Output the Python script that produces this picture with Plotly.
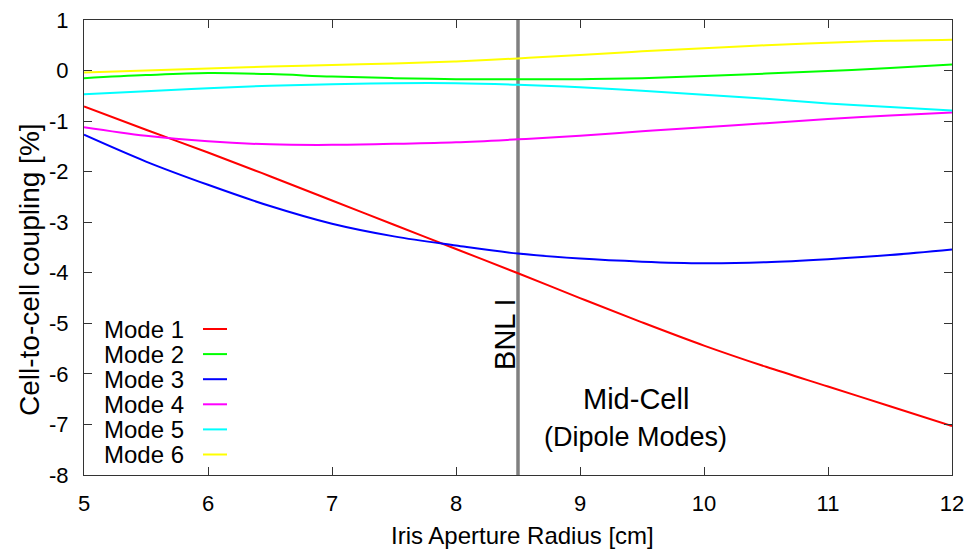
import plotly.graph_objects as go

radius = [5.0, 5.5, 6.0, 6.5, 7.0, 7.5, 8.0, 8.5, 9.0, 9.5, 10.0, 10.5, 11.0, 11.5, 12.0]

mode1 = [-0.71, -1.17, -1.62, -2.09, -2.57, -3.05, -3.53, -4.01, -4.50, -4.98, -5.44, -5.86, -6.25, -6.64, -7.03]
mode2 = [-0.15, -0.09, -0.05, -0.07, -0.12, -0.15, -0.17, -0.17, -0.17, -0.15, -0.11, -0.06, -0.01, 0.05, 0.12]
mode3 = [-1.27, -1.80, -2.26, -2.68, -3.03, -3.28, -3.46, -3.62, -3.72, -3.78, -3.81, -3.79, -3.73, -3.65, -3.54]
mode4 = [-1.12, -1.29, -1.40, -1.46, -1.47, -1.45, -1.42, -1.36, -1.29, -1.20, -1.12, -1.04, -0.96, -0.89, -0.83]
mode5 = [-0.47, -0.41, -0.35, -0.30, -0.27, -0.25, -0.25, -0.28, -0.33, -0.40, -0.48, -0.56, -0.65, -0.72, -0.79]
mode6 = [-0.04, 0.00, 0.04, 0.08, 0.11, 0.14, 0.18, 0.24, 0.31, 0.38, 0.44, 0.50, 0.55, 0.59, 0.61]

names = ["Mode 1", "Mode 2", "Mode 3", "Mode 4", "Mode 5", "Mode 6"]
series = [mode1, mode2, mode3, mode4, mode5, mode6]
colors = ["#ff0000", "#00ff00", "#0000ff", "#ff00ff", "#00ffff", "#ffff00"]

bnl_x = 8.5
x_ticks = [5, 6, 7, 8, 9, 10, 11, 12]
x_tick_labels = ["5", "6", "7", "8", "9", "10", "11", "12"]
y_ticks = [1, 0, -1, -2, -3, -4, -5, -6, -7, -8]
y_tick_labels = ["1", "0", "-1", "-2", "-3", "-4", "-5", "-6", "-7", "-8"]

FONT = "Liberation Sans, Arial, sans-serif"

W, H = 974, 550
ML, MR, MT, MB = 84, 22, 20, 75
PW = W - ML - MR
PH = H - MT - MB

fig = go.Figure()

# reference vertical line (BNL I)
fig.add_trace(go.Scatter(x=[bnl_x, bnl_x], y=[-8, 1], mode="lines",
                         line=dict(color="#808080", width=3.5),
                         showlegend=False, hoverinfo="skip"))

for name, ys, c in zip(names, series, colors):
    fig.add_trace(go.Scatter(x=radius, y=ys, mode="lines", name=name,
                             line=dict(color=c, width=2, shape="spline", smoothing=1.0),
                             showlegend=False))

annotations = []
shapes = []

# manual gnuplot-style legend (text then sample)
row0 = 329
for i, (name, c) in enumerate(zip(names, colors)):
    py = row0 + i * 25.1
    yp = (MT + PH - py) / PH
    annotations.append(dict(x=(186 - ML) / PW, y=yp, xref="paper", yref="paper",
                            text=name, showarrow=False, xanchor="right", yanchor="middle",
                            font=dict(family=FONT, size=24, color="black")))
    shapes.append(dict(type="line", xref="paper", yref="paper",
                       x0=(203 - ML) / PW, x1=(227 - ML) / PW, y0=yp, y1=yp,
                       line=dict(color=c, width=2)))

annotations += [
    dict(x=bnl_x, y=-5.23, xref="x", yref="y", text="BNL I", textangle=-90,
         showarrow=False, xanchor="center", yanchor="middle", xshift=-13,
         font=dict(family=FONT, size=29, color="black")),
    dict(x=9.45, y=-6.50, xref="x", yref="y", text="Mid-Cell", showarrow=False,
         xanchor="center", yanchor="middle", font=dict(family=FONT, size=29, color="black")),
    dict(x=9.45, y=-7.24, xref="x", yref="y", text="(Dipole Modes)", showarrow=False,
         xanchor="center", yanchor="middle", font=dict(family=FONT, size=27, color="black")),
    dict(x=0, y=(MT + PH - 270) / PH, xref="paper", yref="paper", text="Cell-to-cell coupling [%]",
         textangle=-90, showarrow=False, xanchor="center", yanchor="middle", xshift=-55,
         font=dict(family=FONT, size=28, color="black")),
    dict(x=(522 - ML) / PW, y=0, xref="paper", yref="paper", text="Iris Aperture Radius [cm]",
         showarrow=False, xanchor="center", yanchor="middle", yshift=-60,
         font=dict(family=FONT, size=24, color="black")),
]

axis_common = dict(showgrid=False, zeroline=False, showline=True, linecolor="#333333",
                   linewidth=1.2, mirror="allticks", ticks="inside", ticklen=8,
                   tickcolor="#333333", tickwidth=1.2, automargin=False,
                   tickfont=dict(family=FONT, size=22, color="black"))

fig.update_layout(
    width=W, height=H,
    margin=dict(l=ML, r=MR, t=MT, b=MB, autoexpand=False),
    paper_bgcolor="white", plot_bgcolor="white",
    xaxis=dict(range=[5, 12], tickvals=x_ticks, ticktext=x_tick_labels,
               ticklabelstandoff=8, **axis_common),
    yaxis=dict(range=[-8, 1], tickvals=y_ticks, ticktext=y_tick_labels,
               ticklabelstandoff=10, **axis_common),
    annotations=annotations, shapes=shapes,
)

fig.write_html("out.html", config={"displayModeBar": False},
               post_script="document.body.style.margin='0';document.body.style.overflow='hidden';")
